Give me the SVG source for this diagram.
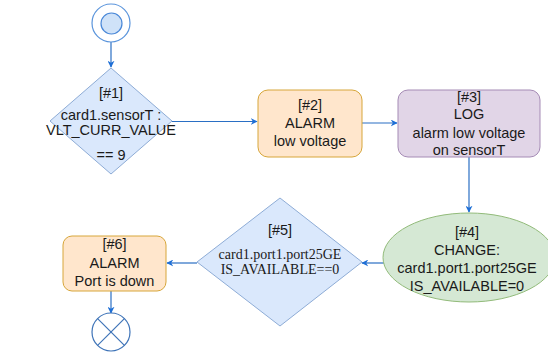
<svg xmlns="http://www.w3.org/2000/svg" width="548" height="356" viewBox="0 0 548 356">
<style>
.t{font-family:"Liberation Sans",Arial,sans-serif;font-size:14.5px;fill:#1a1a1a;text-anchor:middle}
.s{font-family:"Liberation Serif","Times New Roman",serif;font-size:14px;fill:#1a1a1a;text-anchor:middle}
.e{fill:none;stroke:#2a6fc4;stroke-width:1.2}
</style>
<defs>
<marker id="a" viewBox="0 0 10 10" refX="9" refY="5" markerWidth="7" markerHeight="7" markerUnits="userSpaceOnUse" orient="auto">
<path d="M0,0 L10,5 L0,10 L3,5 Z" fill="#1e6fd6"/>
</marker>
</defs>
<rect width="548" height="356" fill="#ffffff"/>
<g id="connectors">
<line class="e" x1="111" y1="42" x2="111" y2="67" marker-end="url(#a)"/>
<line class="e" x1="172" y1="121.5" x2="257" y2="121.5" marker-end="url(#a)"/>
<line class="e" x1="362" y1="123" x2="397" y2="123" marker-end="url(#a)"/>
<line class="e" x1="469" y1="157" x2="469" y2="212" marker-end="url(#a)"/>
<line class="e" x1="384" y1="263" x2="362" y2="263" marker-end="url(#a)"/>
<line class="e" x1="197" y1="263" x2="167" y2="263" marker-end="url(#a)"/>
<line class="e" x1="111" y1="291" x2="111" y2="313" marker-end="url(#a)"/>
</g>
<g id="start">
<circle cx="111" cy="23" r="19" fill="#ffffff" stroke="#5b95dc" stroke-width="1.2"/>
<circle cx="111.5" cy="23.5" r="10.5" fill="#cfe2f8" stroke="#4a88d8" stroke-width="1.2"/>
</g>
<g id="n1">
<polygon points="111,68 172,121 111,174 50,121" fill="#dae8fc" stroke="#8eacd6" stroke-width="1"/>
<text class="t" x="111" y="98">[#1]</text>
<text class="t" x="111" y="120">card1.sensorT :</text>
<text class="t" x="111" y="135">VLT_CURR_VALUE</text>
<text class="t" x="111" y="160">== 9</text>
</g>
<g id="n2">
<rect x="258" y="90" width="104" height="67" rx="10" fill="#ffe6cc" stroke="#d7a63a" stroke-width="1"/>
<text class="t" x="310" y="110">[#2]</text>
<text class="t" x="310" y="128">ALARM</text>
<text class="t" x="310" y="146">low voltage</text>
</g>
<g id="n3">
<rect x="398" y="90" width="142" height="67" rx="10" fill="#e1d5e7" stroke="#a58bb5" stroke-width="1"/>
<text class="t" x="469" y="102">[#3]</text>
<text class="t" x="469" y="119">LOG</text>
<text class="t" x="469" y="138">alarm low voltage</text>
<text class="t" x="469" y="155">on sensorT</text>
</g>
<g id="n4">
<ellipse cx="469" cy="257.5" rx="86" ry="44.5" fill="#d5e8d4" stroke="#92bb7a" stroke-width="1"/>
<text class="t" x="467" y="237">[#4]</text>
<text class="t" x="467" y="255">CHANGE:</text>
<text class="t" x="467" y="273">card1.port1.port25GE</text>
<text class="t" x="467" y="291">IS_AVAILABLE=0</text>
</g>
<g id="n5">
<polygon points="280,198 362,262 280,326 197,262" fill="#dae8fc" stroke="#8eacd6" stroke-width="1"/>
<text class="t" x="280" y="235">[#5]</text>
<text class="s" x="280" y="259">card1.port1.port25GE</text>
<text class="s" x="280" y="274">IS_AVAILABLE==0</text>
</g>
<g id="n6">
<rect x="63" y="236" width="103" height="55" rx="9" fill="#ffe6cc" stroke="#d7a63a" stroke-width="1"/>
<text class="t" x="114.5" y="249">[#6]</text>
<text class="t" x="114.5" y="268">ALARM</text>
<text class="t" x="114.5" y="286">Port is down</text>
</g>
<g id="end">
<circle cx="111" cy="332" r="19" fill="#ffffff" stroke="#3f74b8" stroke-width="1.2"/>
<line x1="97.6" y1="318.6" x2="124.4" y2="345.4" stroke="#3f74b8" stroke-width="1.2"/>
<line x1="124.4" y1="318.6" x2="97.6" y2="345.4" stroke="#3f74b8" stroke-width="1.2"/>
</g>
</svg>
